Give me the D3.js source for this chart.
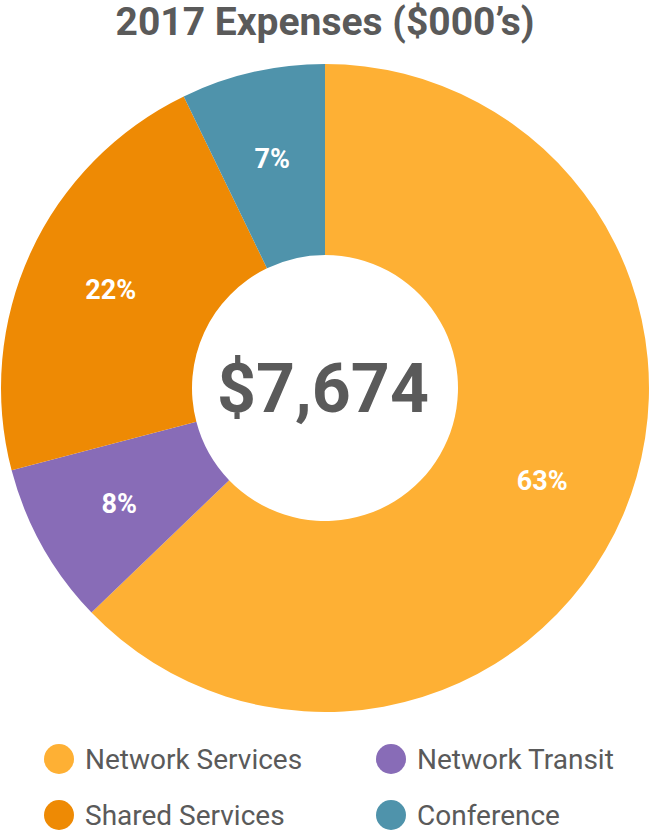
<!DOCTYPE html>
<html>
<head>
<meta charset="utf-8">
<script src="https://cdn.jsdelivr.net/npm/d3@7"></script>
<style>
  html, body { margin: 0; padding: 0; background: #fff; }
  svg { display: block; }
  text { font-family: Roboto, "Noto Sans", sans-serif; }
</style>
</head>
<body>
<svg id="chart" width="650" height="832"></svg>
<script>
const title = "2017 Expenses ($000\u2019s)";
const categories = ["Network Services", "Network Transit", "Shared Services", "Conference"];
const values = [4820, 622, 1681, 551];
const colors = ["#FEB034", "#886CB7", "#EE8A04", "#4F93AB"];
const legendOrder = ["Network Services", "Network Transit", "Shared Services", "Conference"];

const W = 650, H = 832;
const cx = 325, cy = 388;
const outerR = 324, innerR = 133, labelR = 236;
const textColor = "#5A5A5A";

const svg = d3.select("#chart");
const data = categories.map((c, i) => ({ name: c, value: values[i] }));
const total = d3.sum(values);

const color = d3.scaleOrdinal().domain(categories).range(colors);

const pie = d3.pie().value(d => d.value).sort(null);
const arcs = pie(data);
const arc = d3.arc().innerRadius(innerR).outerRadius(outerR);
const labelArc = d3.arc().innerRadius(labelR).outerRadius(labelR);

svg.append("text")
  .attr("x", W / 2).attr("y", 35)
  .attr("text-anchor", "middle")
  .attr("font-size", 39).attr("font-weight", 700)
  .attr("fill", textColor)
  .text(title);

const g = svg.append("g").attr("transform", `translate(${cx},${cy})`);
g.selectAll("path.slice").data(arcs).enter().append("path")
  .attr("class", "slice")
  .attr("d", arc)
  .attr("fill", d => color(d.data.name));

const fmtPct = v => Math.round(v / total * 100) + "%";
g.selectAll("text.pct").data(arcs).enter().append("text")
  .attr("class", "pct")
  .attr("transform", d => `translate(${labelArc.centroid(d)})`)
  .attr("text-anchor", "middle")
  .attr("dy", "0.36em")
  .attr("font-size", 27).attr("font-weight", 700)
  .attr("fill", "#fff")
  .text(d => fmtPct(d.data.value));

g.append("text")
  .attr("x", -2).attr("y", 0)
  .attr("dy", "0.36em")
  .attr("text-anchor", "middle")
  .attr("font-size", 68).attr("font-weight", 700)
  .attr("fill", textColor)
  .text("$" + d3.format(",")(total));

const legend = svg.append("g");
const legX = d3.scalePoint().domain([0, 1]).range([59, 391]);
const legY = d3.scalePoint().domain([0, 1]).range([759, 815]);
legendOrder.forEach((name, i) => {
  const col = i % 2, row = Math.floor(i / 2);
  const item = legend.append("g")
    .attr("transform", `translate(${legX(col)},${legY(row)})`);
  item.append("circle").attr("r", 15).attr("fill", color(name));
  item.append("text")
    .attr("x", 26).attr("dy", "0.34em")
    .attr("font-size", 28)
    .attr("fill", textColor)
    .text(name);
});
</script>
</body>
</html>
